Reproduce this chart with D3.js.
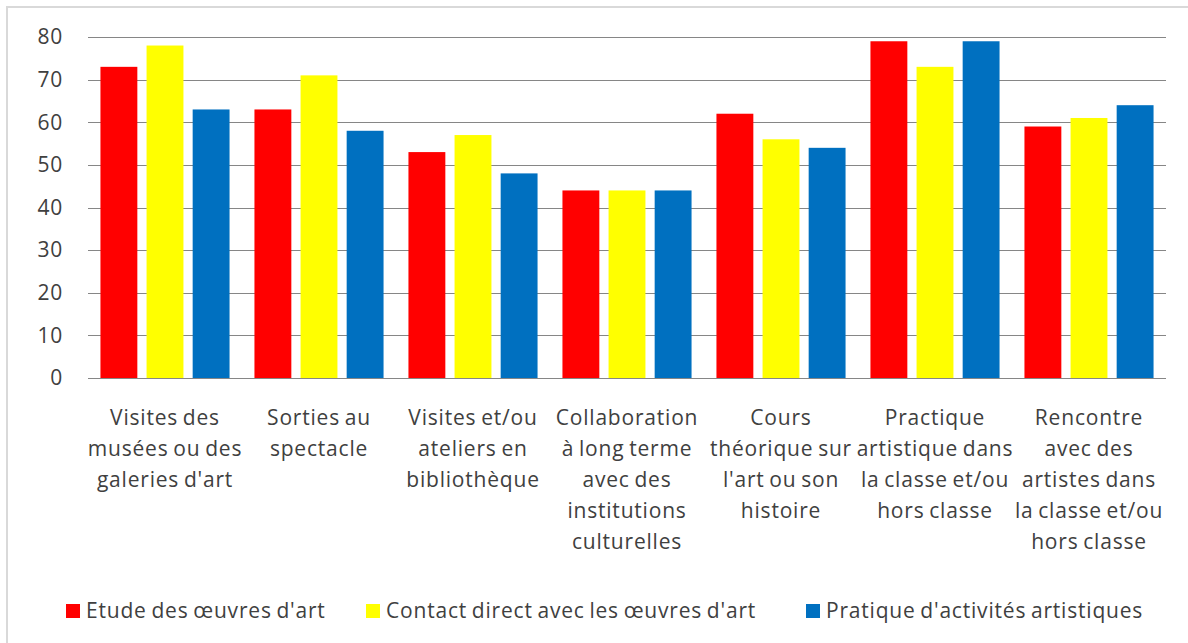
<!DOCTYPE html>
<html>
<head>
<meta charset="utf-8">
<script src="https://cdn.jsdelivr.net/npm/d3@7"></script>
<style>
  body { margin: 0; background: #fff; }
  svg text {
    font-family: "Open Sans", Lato, sans-serif;
    fill: #404040;
    letter-spacing: 0.8px;
    word-spacing: -1.5px;
  }
</style>
</head>
<body>
<div id="chart"></div>
<script>
const categories = [
  "Visites des\nmusées ou des\ngaleries d'art",
  "Sorties au\nspectacle",
  "Visites et/ou\nateliers en\nbibliothèque",
  "Collaboration\nà long terme\navec des\ninstitutions\nculturelles",
  "Cours\nthéorique sur\nl'art ou son\nhistoire",
  "Practique\nartistique dans\nla classe et/ou\nhors classe",
  "Rencontre\navec des\nartistes dans\nla classe et/ou\nhors classe",
];
const seriesNames = [
  "Etude des œuvres d'art",
  "Contact direct avec les œuvres d'art",
  "Pratique d'activités artistiques",
];
const etude = [73, 63, 53, 44, 62, 79, 59];
const contact = [78, 71, 57, 44, 56, 73, 61];
const pratique = [63, 58, 48, 44, 54, 79, 64];
const yTicks = [0, 10, 20, 30, 40, 50, 60, 70, 80];

const colors = ["#ff0000", "#ffff00", "#0070c0"];
const series = [etude, contact, pratique];

const width = 1188;
const height = 643;
const margin = { top: 37, left: 88, right: 22, bottom: 265 };
const fontSize = "21px";

const svg = d3.select("#chart")
  .append("svg")
  .attr("width", width)
  .attr("height", height);

svg.append("rect")
  .attr("x", 7).attr("y", 7)
  .attr("width", width + 10).attr("height", height + 10)
  .attr("fill", "#fff")
  .attr("stroke", "#d9d9d9")
  .attr("stroke-width", 2);

const x = d3.scaleBand()
  .domain(categories)
  .range([margin.left, width - margin.right]);

const xInner = d3.scaleBand()
  .domain(d3.range(series.length))
  .range([0, x.bandwidth()])
  .paddingInner(0.2)
  .paddingOuter(0.27);

const y = d3.scaleLinear()
  .domain([0, 80])
  .range([height - margin.bottom, margin.top]);

// gridlines
svg.append("g")
  .selectAll("line")
  .data(yTicks.filter((d) => d > 0))
  .join("line")
  .attr("x1", margin.left)
  .attr("x2", width - margin.right)
  .attr("y1", (d) => Math.round(y(d)) + 0.5)
  .attr("y2", (d) => Math.round(y(d)) + 0.5)
  .attr("stroke", "#868686")
  .attr("stroke-width", 1);

// y tick labels
svg.append("g")
  .selectAll("text")
  .data(yTicks)
  .join("text")
  .attr("x", 63)
  .attr("y", (d) => y(d))
  .attr("dy", "0.35em")
  .attr("text-anchor", "end")
  .style("font-size", fontSize)
  .text((d) => d);

// bars
series.forEach((values, s) => {
  svg.append("g")
    .selectAll("rect")
    .data(values)
    .join("rect")
    .attr("x", (d, i) => x(categories[i]) + xInner(s))
    .attr("y", (d) => y(d))
    .attr("width", xInner.bandwidth())
    .attr("height", (d) => y(0) - y(d))
    .attr("fill", colors[s]);
});

// baseline
svg.append("line")
  .attr("x1", margin.left)
  .attr("x2", width - margin.right)
  .attr("y1", Math.round(y(0)) + 0.5)
  .attr("y2", Math.round(y(0)) + 0.5)
  .attr("stroke", "#868686")
  .attr("stroke-width", 1.2);

// category labels
const catLabels = svg.append("g")
  .selectAll("text")
  .data(categories)
  .join("text")
  .attr("text-anchor", "middle")
  .style("font-size", fontSize)
  .attr("x", (d) => x(d) + x.bandwidth() / 2)
  .attr("y", 418);

catLabels.selectAll("tspan")
  .data((d) => d.split("\n"))
  .join("tspan")
  .attr("x", function () { return this.parentNode.getAttribute("x"); })
  .attr("dy", (d, i) => (i === 0 ? "0.35em" : "31px"))
  .text((d) => d);

// legend
const legendY = 611;
const legendX = [66, 366, 806];
const legend = svg.append("g")
  .selectAll("g")
  .data(seriesNames)
  .join("g")
  .attr("transform", (d, i) => `translate(${legendX[i]},${legendY})`);

legend.append("rect")
  .attr("x", 0).attr("y", -7)
  .attr("width", 14).attr("height", 14)
  .attr("fill", (d, i) => colors[i]);

legend.append("text")
  .attr("x", 20)
  .attr("dy", "0.35em")
  .style("font-size", fontSize)
  .text((d) => d);
</script>
</body>
</html>
